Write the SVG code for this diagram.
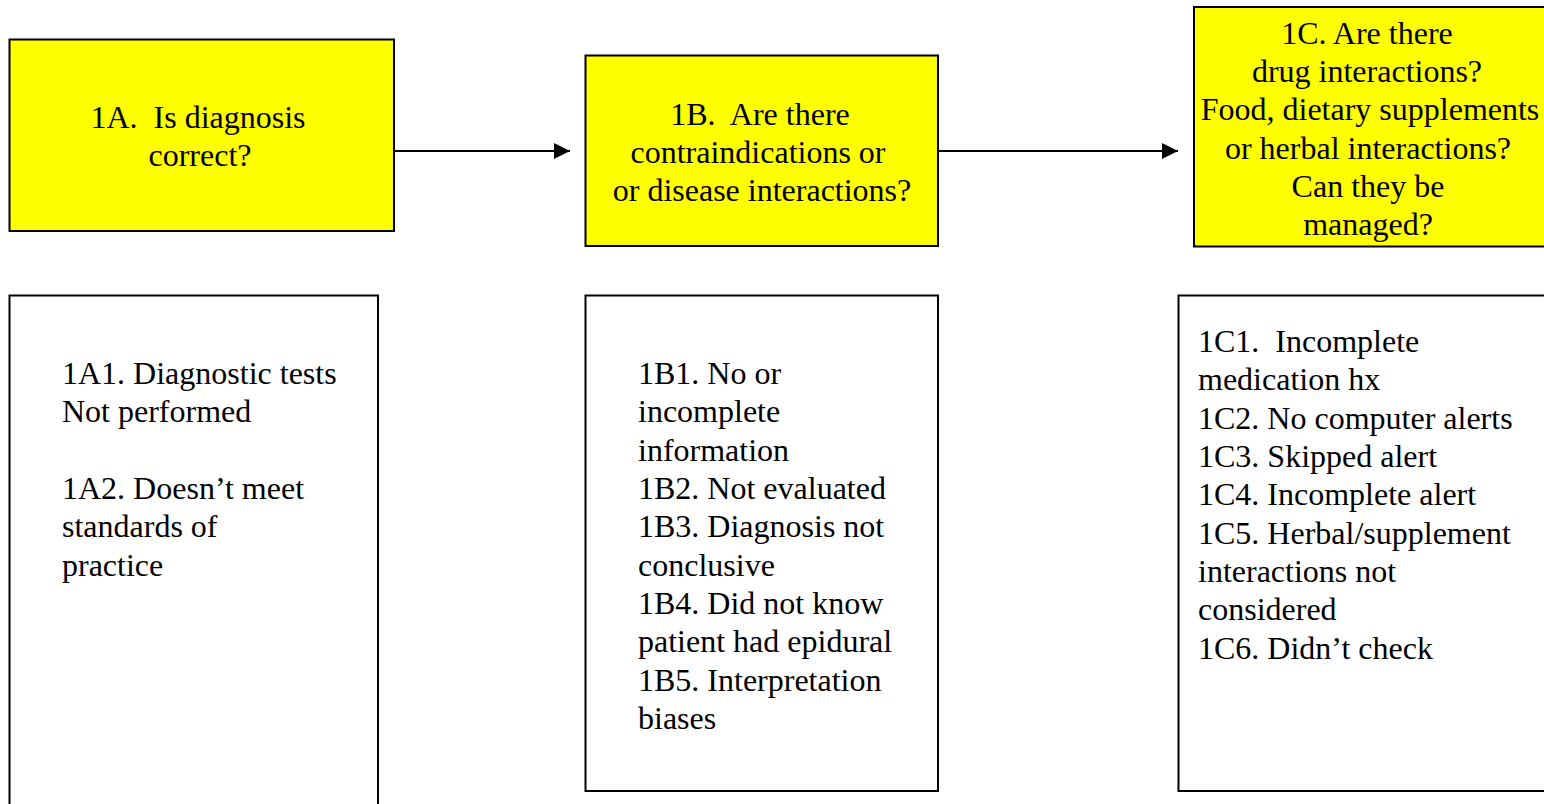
<svg xmlns="http://www.w3.org/2000/svg" width="1544" height="804" viewBox="0 0 1544 804">
<style>
.q{fill:#ffff00;stroke:#000;stroke-width:2}
.l{fill:#fff;stroke:#000;stroke-width:2}
text{font-family:"Liberation Serif",serif;font-size:32px;fill:#000;white-space:pre}
.c{text-anchor:middle}
.conn{stroke:#000;stroke-width:2;fill:none}
</style>
<defs>
<marker id="ah" markerWidth="16" markerHeight="16" refX="16" refY="8" orient="auto" markerUnits="userSpaceOnUse">
<path d="M0,0 L16,8 L0,16 Z" fill="#000"/>
</marker>
</defs>
<rect width="1544" height="804" fill="#fff"/>
<g id="connectors">
<line class="conn" x1="394" y1="151" x2="570" y2="151" marker-end="url(#ah)"/>
<line class="conn" x1="938" y1="151" x2="1178" y2="151" marker-end="url(#ah)"/>
</g>
<g id="n1A">
<rect class="q" x="9.5" y="39.5" width="384.5" height="191.5"/>
<text class="c" x="198" y="128" xml:space="preserve">1A.  Is diagnosis</text>
<text class="c" x="200" y="166">correct?</text>
</g>
<g id="n1B">
<rect class="q" x="585.5" y="55.5" width="352.5" height="190.5"/>
<text class="c" x="760" y="125" xml:space="preserve">1B.  Are there</text>
<text class="c" x="758" y="163">contraindications or</text>
<text class="c" x="762" y="201">or disease interactions?</text>
</g>
<g id="n1C">
<rect class="q" x="1194" y="7" width="360" height="239.5"/>
<text class="c" x="1367" y="44">1C. Are there</text>
<text class="c" x="1367" y="82">drug interactions?</text>
<text class="c" x="1370" y="120">Food, dietary supplements</text>
<text class="c" x="1368" y="159">or herbal interactions?</text>
<text class="c" x="1368" y="197">Can they be</text>
<text class="c" x="1368" y="235">managed?</text>
</g>
<g id="n1A-list">
<rect class="l" x="9.5" y="295.5" width="368.5" height="520"/>
<text x="62" y="384">1A1. Diagnostic tests</text>
<text x="62" y="422">Not performed</text>
<text x="62" y="499">1A2. Doesn’t meet</text>
<text x="62" y="537">standards of</text>
<text x="62" y="576">practice</text>
</g>
<g id="n1B-list">
<rect class="l" x="585.5" y="295.5" width="352.5" height="495.5"/>
<text x="638" y="384">1B1. No or</text>
<text x="638" y="422">incomplete</text>
<text x="638" y="461">information</text>
<text x="638" y="499">1B2. Not evaluated</text>
<text x="638" y="537">1B3. Diagnosis not</text>
<text x="638" y="576">conclusive</text>
<text x="638" y="614">1B4. Did not know</text>
<text x="638" y="652">patient had epidural</text>
<text x="638" y="691">1B5. Interpretation</text>
<text x="638" y="729">biases</text>
</g>
<g id="n1C-list">
<rect class="l" x="1178.5" y="295.5" width="380" height="495.5"/>
<text x="1198" y="352" xml:space="preserve">1C1.  Incomplete</text>
<text x="1198" y="390">medication hx</text>
<text x="1198" y="429">1C2. No computer alerts</text>
<text x="1198" y="467">1C3. Skipped alert</text>
<text x="1198" y="505">1C4. Incomplete alert</text>
<text x="1198" y="544">1C5. Herbal/supplement</text>
<text x="1198" y="582">interactions not</text>
<text x="1198" y="620">considered</text>
<text x="1198" y="659">1C6. Didn’t check</text>
</g>
</svg>
